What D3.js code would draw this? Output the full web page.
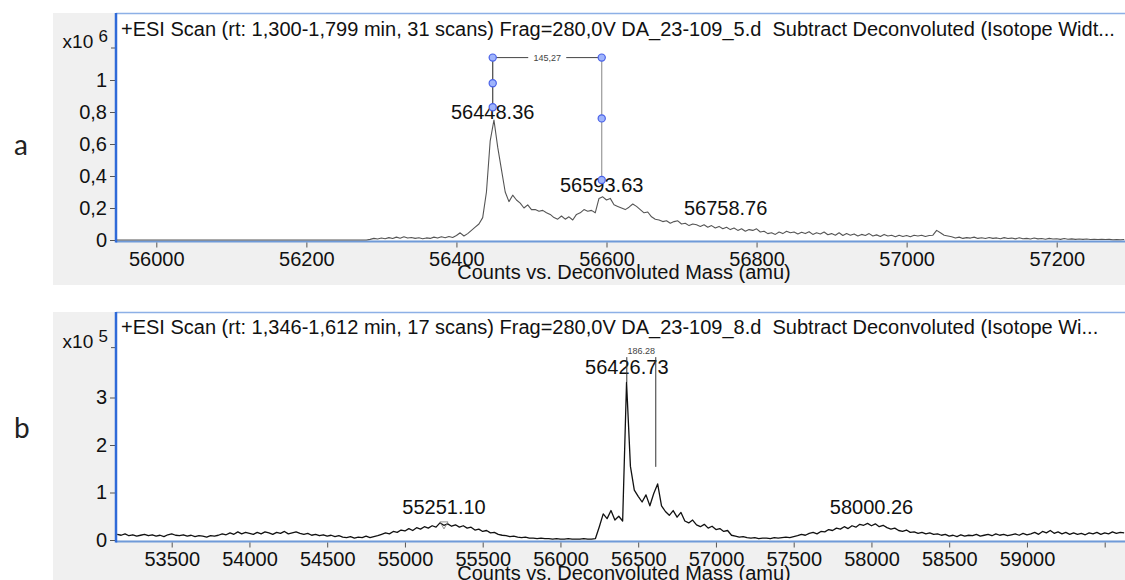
<!DOCTYPE html>
<html>
<head>
<meta charset="utf-8">
<script src="https://cdn.jsdelivr.net/npm/d3@7/dist/d3.min.js"></script>
<style>
  html, body { margin: 0; padding: 0; background: #ffffff; }
  svg { display: block; }
  text { font-family: "Liberation Sans", Arial, sans-serif; fill: #111; }
</style>
</head>
<body>
<svg id="chart" width="1125" height="580"></svg>
<script>
// ---------------- DATA ----------------
const titleA = "+ESI Scan (rt: 1,300-1,799 min, 31 scans) Frag=280,0V DA_23-109_5.d  Subtract Deconvoluted (Isotope Widt...";
const titleB = "+ESI Scan (rt: 1,346-1,612 min, 17 scans) Frag=280,0V DA_23-109_8.d  Subtract Deconvoluted (Isotope Wi...";
const axisTitle = "Counts vs. Deconvoluted Mass (amu)";
const panelLetters = ["a", "b"];

// Panel a: counts (x10^6), sampled every 5 amu from 56280 amu
const leadA = [[55940, 0], [56275, 0]];
const startA = 56280, stepA = 5;
const countsA = [
  0.000,0.004,0.010,0.006,0.012,0.008,0.015,0.009,0.018,0.011,0.020,0.012,0.016,0.010,0.014,0.008,0.013,0.010,0.018,0.012,0.020,0.014,0.022,0.016,0.028,
  0.045,0.025,0.040,0.060,0.080,0.100,0.140,0.300,0.620,0.750,0.580,0.440,0.300,0.240,0.280,0.250,0.230,0.200,0.220,0.190,0.190,0.180,0.185,0.170,0.160,
  0.140,0.130,0.150,0.130,0.145,0.125,0.160,0.170,0.190,0.180,0.185,0.170,0.260,0.270,0.250,0.260,0.220,0.210,0.200,0.190,0.205,0.225,0.210,0.190,0.170,
  0.175,0.145,0.130,0.125,0.115,0.120,0.105,0.115,0.120,0.100,0.105,0.090,0.100,0.095,0.085,0.095,0.080,0.090,0.075,0.085,0.070,0.080,0.065,0.075,0.060,
  0.070,0.055,0.065,0.060,0.070,0.050,0.055,0.040,0.045,0.035,0.050,0.040,0.055,0.045,0.050,0.038,0.048,0.040,0.052,0.035,0.045,0.038,0.050,0.033,0.040,
  0.030,0.045,0.028,0.040,0.030,0.038,0.025,0.035,0.028,0.040,0.025,0.032,0.022,0.035,0.025,0.030,0.020,0.030,0.022,0.028,0.020,0.030,0.025,0.030,0.022,
  0.028,0.030,0.060,0.045,0.030,0.025,0.020,0.012,0.018,0.010,0.015,0.012,0.018,0.010,0.014,0.009,0.016,0.010,0.013,0.008,0.015,0.009,0.012,0.007,0.014,
  0.008,0.010,0.006,0.012,0.007,0.009,0.005,0.010,0.006,0.008,0.004,0.009,0.005,0.007,0.004,0.006,0.004,0.006,0.003,0.005,0.003,0.004,0.003,0.004,0.002,
  0.003,0.002,0.003
];
const ticksXA = [56000, 56200, 56400, 56600, 56800, 57000, 57200];
const ticksYA = [0, 0.2, 0.4, 0.6, 0.8, 1];
const expTickA = 1.2, exponentA = "6";
const peaksA = [
  { mass: 56448.36, label: "56448.36", value: 0.755 },
  { mass: 56593.63, label: "56593.63", value: 0.30 },
  { mass: 56758.76, label: "56758.76", value: 0.155 }
];
const measureA = { from: 56448.36, to: 56593.63, label: "145,27", top: 1.14, leftHandles: [1.14, 0.98, 0.83], rightHandles: [1.14, 0.76, 0.375] };

// Panel b: counts (x10^5), sampled every 25 amu from 53150 amu
const startB = 53150, stepB = 25;
const countsB = [
  0.12,0.10,0.13,0.09,0.11,0.08,0.10,0.12,0.09,0.11,0.08,0.10,0.07,0.11,
  0.13,0.10,0.09,0.11,0.08,0.10,0.07,0.09,0.08,0.06,0.09,0.08,
  0.10,0.13,0.11,0.15,0.12,0.17,0.13,0.16,0.14,0.12,0.16,0.13,0.17,0.15,0.12,0.16,0.14,0.18,0.13,0.15,0.17,0.14,
  0.12,0.14,0.10,0.12,0.09,0.11,0.08,0.10,0.07,0.09,
  0.06,0.05,0.07,0.04,0.06,0.05,0.08,0.05,0.07,0.09,
  0.12,0.15,0.13,0.18,0.16,0.21,0.19,
  0.24,0.20,0.26,0.23,0.28,0.25,0.30,0.27,
  0.36,0.31,0.34,0.29,0.32,0.27,0.30,
  0.25,0.27,0.21,0.23,0.18,0.20,0.15,0.16,0.12,
  0.10,0.09,0.07,0.08,0.06,0.05,0.06,0.04,
  0.04,0.03,0.04,0.03,0.03,0.02,0.03,0.02,0.02,0.03,0.02,0.02,0.02,0.03,0.02,0.02,0.03,
  0.28,0.55,0.45,0.62,0.42,0.50,0.40,
  3.32,
  1.55,1.05,0.92,0.80,0.95,0.72,
  0.98,1.18,
  0.72,0.60,0.52,0.62,0.48,0.58,
  0.40,0.36,0.42,0.32,0.28,0.33,0.25,0.29,0.22,0.24,0.18,0.20,
  0.10,0.08,0.06,0.07,0.05,0.04,0.05,0.03,0.04,0.04,0.03,0.05,0.04,0.05,0.06,0.05,
  0.07,0.09,0.12,0.10,0.14,0.16,0.13,0.18,0.17,0.22,
  0.20,0.25,0.23,0.28,0.24,0.30,0.27,0.33,
  0.31,0.35,0.30,0.34,0.28,0.31,0.26,0.23,0.25,
  0.20,0.18,0.21,0.16,0.17,0.14,0.16,0.13,0.15,0.12,
  0.13,0.10,0.12,0.08,0.10,0.07,0.11,0.08,0.10,0.09,0.12,0.08,
  0.10,0.12,0.09,0.13,0.10,0.12,0.09,0.11,0.13,0.10,0.14,0.11,
  0.13,0.16,0.12,0.18,0.15,0.20,0.14,0.17,0.13,0.16,0.12,0.15,
  0.12,0.14,0.11,0.15,0.13,0.16,0.12,0.15,0.13,0.17,0.14,0.16,0.15
];
const ticksXB = [53500, 54000, 54500, 55000, 55500, 56000, 56500, 57000, 57500, 58000, 58500, 59000, 59500];
const tickLabelsXB = ["53500","54000","54500","55000","55500","56000","56500","57000","57500","58000","58500","59000",""];
const ticksYB = [0, 1, 2, 3];
const expTickB = 4.05, exponentB = "5";
const peaksB = [
  { mass: 55251.10, label: "55251.10", value: 0.55, marker: true },
  { mass: 56426.73, label: "56426.73", value: 3.49 },
  { mass: 58000.26, label: "58000.26", value: 0.55 }
];
const measureB = { from: 56426.73, to: 56613.01, label: "186.28", top: 3.85, leftEnd: 3.32, rightEnd: 1.54 };

// ---------------- LAYOUT ----------------
const svg = d3.select("#chart");
const W = 1125;
const FS = 20;
const panels = [
  { bgTop: 13, bgBottom: 285, plotTop: 13, plotBottom: 240.5, titleY: 36, tickLabelY: 266, axisTitleY: 279, letterY: 155 },
  { bgTop: 312, bgBottom: 580, plotTop: 312, plotBottom: 540.5, titleY: 334, tickLabelY: 566, axisTitleY: 580, letterY: 438 }
];
const bgLeft = 53, plotLeft = 116;

const xA = d3.scaleLinear().domain([56000, 57200]).range([156.3, 1056.7]);
const yA = d3.scaleLinear().domain([0, 1]).range([240, 80]);
const xB = d3.scaleLinear().domain([53500, 59500]).range([171.7, 1104.7]);
const yB = d3.scaleLinear().domain([0, 1]).range([540, 492.5]);

const dataA = leadA.concat(countsA.map((v, i) => [startA + i * stepA, v]));
const dataB = countsB.map((v, i) => [startB + i * stepB, v]);

function commaFmt(d) {
  if (d === 0) return "0";
  if (Number.isInteger(d)) return String(d);
  return d3.format(".1f")(d).replace(".", ",");
}

function drawPanel(idx, cfg) {
  const P = panels[idx];
  const g = svg.append("g");
  svg.append("text").attr("x", 14).attr("y", P.letterY)
    .style("font-family", "Lato, 'Open Sans', sans-serif").style("font-size", "28px").style("fill", "#222")
    .text(panelLetters[idx]);
  g.append("rect").attr("x", bgLeft).attr("y", P.bgTop).attr("width", W - bgLeft).attr("height", P.bgBottom - P.bgTop)
    .attr("fill", "#f0f0f0");
  g.append("rect").attr("x", plotLeft).attr("y", P.plotTop).attr("width", W - plotLeft).attr("height", P.plotBottom - P.plotTop)
    .attr("fill", "#ffffff");
  const clipId = "clip" + idx;
  svg.append("clipPath").attr("id", clipId).append("rect")
    .attr("x", plotLeft + 1).attr("y", P.plotTop).attr("width", W - plotLeft).attr("height", P.plotBottom - P.plotTop + 1);

  g.append("line").attr("x1", plotLeft).attr("x2", W).attr("y1", P.plotTop + 0.5).attr("y2", P.plotTop + 0.5)
    .attr("stroke", "#8db0e6").attr("stroke-width", 1.5);
  g.append("line").attr("x1", plotLeft).attr("x2", W).attr("y1", P.plotBottom + 1).attr("y2", P.plotBottom + 1)
    .attr("stroke", "#6f9ad8").attr("stroke-width", 2);

  const xAxis = d3.axisBottom(cfg.x).tickValues(cfg.ticksX).tickSize(5).tickPadding(0)
    .tickFormat((d, i) => cfg.tickLabelsX ? cfg.tickLabelsX[i] : String(d));
  const gx = g.append("g").attr("transform", `translate(0,${P.plotBottom + 2})`).call(xAxis);
  gx.select(".domain").remove();
  gx.selectAll(".tick line").attr("stroke", "#555");
  gx.selectAll(".tick text").attr("y", P.tickLabelY - P.plotBottom - 2).attr("dy", 0)
    .style("font-size", FS + "px").style("fill", "#111");

  const yAxis = d3.axisLeft(cfg.y).tickValues(cfg.ticksY).tickSize(5).tickPadding(3).tickFormat(commaFmt);
  const gy = g.append("g").attr("transform", `translate(${plotLeft - 1},0)`).call(yAxis);
  gy.select(".domain").remove();
  gy.selectAll(".tick line").attr("stroke", "#555");
  gy.selectAll(".tick text").style("font-size", FS + "px").style("fill", "#111");

  const ey = cfg.y(cfg.expTick);
  g.append("line").attr("x1", plotLeft - 5).attr("x2", plotLeft).attr("y1", ey).attr("y2", ey).attr("stroke", "#555");
  const et = g.append("text").attr("x", plotLeft - 8).attr("y", ey).attr("text-anchor", "end").style("font-size", "19px");
  et.append("tspan").text("x10 ");
  et.append("tspan").attr("dy", -6).style("font-size", "17px").text(cfg.exponent);

  g.append("line").attr("x1", plotLeft).attr("x2", plotLeft).attr("y1", P.plotTop).attr("y2", P.plotBottom + 2)
    .attr("stroke", "#2f6ad8").attr("stroke-width", 2.5);

  const line = d3.line().x(d => cfg.x(d[0])).y(d => cfg.y(d[1]));
  g.append("path").datum(cfg.data).attr("clip-path", `url(#${clipId})`)
    .attr("d", line).attr("fill", "none").attr("stroke", cfg.lineColor).attr("stroke-width", cfg.lineWidth)
    .attr("stroke-linejoin", "round");

  g.append("text").attr("x", plotLeft + 5).attr("y", P.titleY).style("font-size", FS + "px").style("white-space", "pre")
    .attr("xml:space", "preserve").text(cfg.title);

  g.append("text").attr("x", 624).attr("y", P.axisTitleY).attr("text-anchor", "middle").style("font-size", FS + "px")
    .text(axisTitle);

  cfg.peaks.forEach(p => {
    g.append("text").attr("x", cfg.x(p.mass)).attr("y", cfg.y(p.value)).attr("text-anchor", "middle")
      .style("font-size", FS + "px").text(p.label);
    if (p.marker) {
      const mx = cfg.x(p.mass), my = cfg.y(p.value) + 8;
      g.append("path").attr("d", `M${mx - 4},${my} L${mx + 4},${my} L${mx},${my + 7} Z`)
        .attr("fill", "none").attr("stroke", "#777").attr("stroke-width", 0.8);
    }
  });
  return g;
}

const gA = drawPanel(0, { x: xA, y: yA, ticksX: ticksXA, ticksY: ticksYA, expTick: expTickA, exponent: exponentA,
  data: dataA, lineColor: "#555", lineWidth: 1.1, title: titleA, peaks: peaksA });
const gB = drawPanel(1, { x: xB, y: yB, ticksX: ticksXB, tickLabelsX: tickLabelsXB, ticksY: ticksYB, expTick: expTickB, exponent: exponentB,
  data: dataB, lineColor: "#111", lineWidth: 1.3, title: titleB, peaks: peaksB });

(function () {
  const m = measureA;
  const x1 = xA(m.from), x2 = xA(m.to), yt = yA(m.top);
  const ybL = yA(m.leftHandles[m.leftHandles.length - 1]);
  const ybR = yA(m.rightHandles[m.rightHandles.length - 1]);
  gA.append("line").attr("x1", x1).attr("x2", x1).attr("y1", yt).attr("y2", ybL).attr("stroke", "#444").attr("stroke-width", 1.2);
  gA.append("line").attr("x1", x2).attr("x2", x2).attr("y1", yt).attr("y2", ybR).attr("stroke", "#999").attr("stroke-width", 1.2);
  const mid = (x1 + x2) / 2;
  gA.append("line").attr("x1", x1).attr("x2", mid - 19).attr("y1", yt).attr("y2", yt).attr("stroke", "#444");
  gA.append("line").attr("x1", mid + 19).attr("x2", x2).attr("y1", yt).attr("y2", yt).attr("stroke", "#444");
  gA.append("text").attr("x", mid).attr("y", yt + 3).attr("text-anchor", "middle").style("font-size", "9px").style("fill", "#444").text(m.label);
  const handles = m.leftHandles.map(v => [x1, yA(v)]).concat(m.rightHandles.map(v => [x2, yA(v)]));
  gA.selectAll("circle.h").data(handles).enter().append("circle")
    .attr("cx", d => d[0]).attr("cy", d => d[1]).attr("r", 3.6)
    .attr("fill", "#9fb4fb").attr("stroke", "#4a62e8").attr("stroke-width", 1.2);
})();

(function () {
  const m = measureB;
  const x1 = xB(m.from), x2 = xB(m.to), yt = yB(m.top);
  gB.append("line").attr("x1", x1).attr("x2", x1).attr("y1", yt).attr("y2", yB(m.leftEnd)).attr("stroke", "#333").attr("stroke-width", 1);
  gB.append("line").attr("x1", x2).attr("x2", x2).attr("y1", yt).attr("y2", yB(m.rightEnd)).attr("stroke", "#333").attr("stroke-width", 1);
  gB.append("text").attr("x", (x1 + x2) / 2).attr("y", yt - 3).attr("text-anchor", "middle").style("font-size", "9px").style("fill", "#444").text(m.label);
})();
</script>
</body>
</html>
